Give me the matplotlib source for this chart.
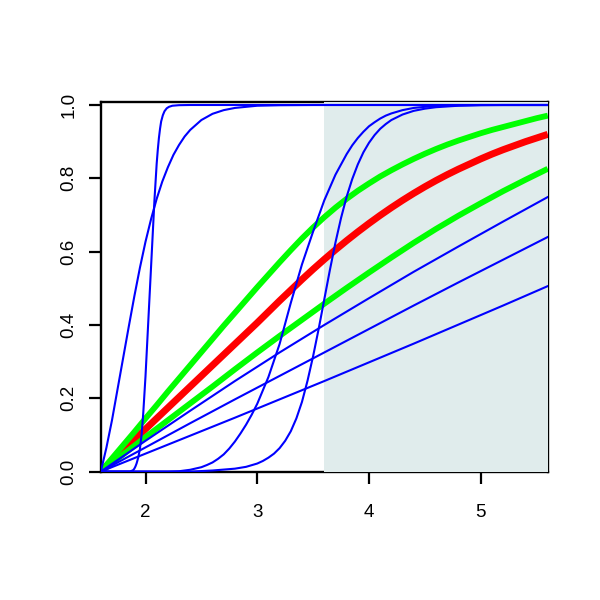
import matplotlib
matplotlib.use("Agg")
import matplotlib.pyplot as plt

plt.rcParams['font.family'] = ['Liberation Sans', 'DejaVu Sans']

# shaded band and axis setup
shade_from, shade_to = 3.6, 5.6
x_ticks = [2, 3, 4, 5]
y_ticks = [0.0, 0.2, 0.4, 0.6, 0.8, 1.0]

# red curve (thick), read every 0.1
red_x = [1.6, 1.7, 1.8, 1.9, 2.0, 2.1, 2.2, 2.3, 2.4, 2.5, 2.6, 2.7, 2.8, 2.9, 3.0,
         3.1, 3.2, 3.3, 3.4, 3.5, 3.6, 3.7, 3.8, 3.9, 4.0, 4.1, 4.2, 4.3, 4.4, 4.5,
         4.6, 4.7, 4.8, 4.9, 5.0, 5.1, 5.2, 5.3, 5.4, 5.5, 5.6]
red_y = [0.0, 0.029, 0.058, 0.087, 0.116, 0.145, 0.174, 0.203, 0.232, 0.261, 0.29,
         0.319, 0.348, 0.377, 0.406, 0.436, 0.466, 0.495, 0.524, 0.552, 0.579, 0.605,
         0.63, 0.654, 0.677, 0.699, 0.72, 0.74, 0.759, 0.777, 0.794, 0.81, 0.825,
         0.839, 0.853, 0.866, 0.878, 0.889, 0.9, 0.91, 0.92]

# upper green curve (thick)
green_hi_x = red_x
green_hi_y = [0.0, 0.036, 0.072, 0.108, 0.145, 0.181, 0.218, 0.254, 0.29, 0.326, 0.362,
              0.398, 0.433, 0.468, 0.503, 0.537, 0.571, 0.604, 0.636, 0.666, 0.694, 0.72,
              0.744, 0.766, 0.786, 0.805, 0.822, 0.838, 0.853, 0.867, 0.88, 0.892, 0.903,
              0.913, 0.923, 0.932, 0.94, 0.948, 0.956, 0.964, 0.971]

# lower green curve (thick)
green_lo_x = [1.6, 1.8, 2.0, 2.2, 2.4, 2.6, 2.8, 3.0, 3.2, 3.4, 3.6, 3.8, 4.0, 4.2, 4.4,
              4.6, 4.8, 5.0, 5.2, 5.4, 5.6]
green_lo_y = [0.0, 0.047, 0.094, 0.14, 0.186, 0.232, 0.279, 0.325, 0.37, 0.414, 0.458,
              0.501, 0.543, 0.584, 0.624, 0.662, 0.698, 0.732, 0.765, 0.796, 0.826]

# blue, near-straight ones
line_x = [1.6, 2.0, 2.4, 2.8, 3.2, 3.6, 4.0, 4.4, 4.8, 5.2, 5.6]
line_a = [0.0, 0.084, 0.166, 0.247, 0.325, 0.40, 0.473, 0.545, 0.614, 0.682, 0.749]
line_b = [0.0, 0.066, 0.132, 0.197, 0.261, 0.325, 0.389, 0.453, 0.516, 0.578, 0.64]
line_c = [0.0, 0.049, 0.098, 0.147, 0.197, 0.247, 0.298, 0.349, 0.401, 0.453, 0.506]

# blue, fast rise from the start
fast_x = [1.6, 1.65, 1.7, 1.75, 1.8, 1.85, 1.9, 1.95, 2.0, 2.05, 2.1, 2.15, 2.2, 2.25,
          2.3, 2.35, 2.4, 2.5, 2.6, 2.7, 2.8, 3.0, 3.2, 3.5, 5.6]
fast_y = [0.0, 0.065, 0.14, 0.225, 0.31, 0.395, 0.478, 0.556, 0.627, 0.689, 0.744, 0.791,
          0.83, 0.864, 0.891, 0.914, 0.932, 0.959, 0.976, 0.986, 0.992, 0.998, 0.9994,
          1.0, 1.0]

# blue, very steep step near 2
step_x = [1.6, 1.86, 1.89, 1.9, 1.91, 1.92, 1.935, 1.95, 1.965, 1.98, 2.0, 2.02, 2.04,
          2.06, 2.08, 2.1, 2.11, 2.12, 2.13, 2.14, 2.155, 2.17, 2.19, 2.21, 2.24, 2.3,
          2.4, 5.6]
step_y = [0.0, 0.0, 0.004, 0.008, 0.014, 0.022, 0.038, 0.062, 0.1, 0.16, 0.26, 0.38,
          0.5, 0.62, 0.74, 0.84, 0.878, 0.91, 0.935, 0.955, 0.972, 0.983, 0.991, 0.995,
          0.998, 0.9995, 1.0, 1.0]

# blue sigmoid around 3.3
sig1_x = [1.6, 2.2, 2.3, 2.4, 2.5, 2.55, 2.6, 2.65, 2.7, 2.75, 2.8, 2.85, 2.9, 2.95,
          3.0, 3.1, 3.2, 3.3, 3.4, 3.5, 3.6, 3.7, 3.8, 3.85, 3.9, 3.95, 4.0, 4.05,
          4.1, 4.15, 4.2, 4.3, 4.4, 4.5, 4.6, 4.8, 5.0, 5.6]
sig1_y = [0.0, 0.0, 0.001, 0.005, 0.012, 0.018, 0.025, 0.035, 0.047, 0.063, 0.082,
          0.104, 0.128, 0.155, 0.185, 0.258, 0.348, 0.46, 0.565, 0.655, 0.74, 0.81,
          0.866, 0.89, 0.91, 0.927, 0.942, 0.953, 0.963, 0.971, 0.977, 0.986, 0.992,
          0.995, 0.997, 0.999, 1.0, 1.0]

# blue sigmoid around 3.6 (steeper)
sig2_x = [1.6, 2.4, 2.6, 2.8, 2.9, 3.0, 3.05, 3.1, 3.15, 3.2, 3.25, 3.3, 3.35, 3.4,
          3.45, 3.5, 3.55, 3.6, 3.65, 3.7, 3.75, 3.8, 3.85, 3.9, 3.95, 4.0, 4.05,
          4.1, 4.15, 4.2, 4.3, 4.4, 4.5, 4.6, 4.8, 5.0, 5.2, 5.6]
sig2_y = [0.0, 0.0, 0.003, 0.008, 0.013, 0.022, 0.029, 0.038, 0.049, 0.064, 0.084,
          0.11, 0.145, 0.19, 0.248, 0.315, 0.39, 0.47, 0.55, 0.625, 0.692, 0.75,
          0.798, 0.838, 0.871, 0.897, 0.918, 0.935, 0.948, 0.959, 0.974, 0.984,
          0.99, 0.994, 0.998, 0.9995, 1.0, 1.0]

fig = plt.figure(figsize=(6, 6), dpi=100)
ax = fig.add_axes([0.168, 0.214, 0.745, 0.6165])

ax.axvspan(shade_from, shade_to, color='#E0ECEC', zorder=2.6, lw=0)

ax.plot(red_x, red_y, color='#FF0000', lw=5.0, zorder=3, solid_capstyle='butt')
ax.plot(green_hi_x, green_hi_y, color='#00FF00', lw=4.2, zorder=4, solid_capstyle='butt')
ax.plot(green_lo_x, green_lo_y, color='#00FF00', lw=4.2, zorder=4, solid_capstyle='butt')

blues = [(line_x, line_a), (line_x, line_b), (line_x, line_c),
         (fast_x, fast_y), (step_x, step_y), (sig1_x, sig1_y), (sig2_x, sig2_y)]
for bx, by in blues:
    ax.plot(bx, by, color='#0000FF', lw=1.5, zorder=5)

ax.set_xlim(1.6, 5.6)
ax.set_ylim(0, 1.009)
ax.set_xticks(x_ticks)
ax.set_yticks(y_ticks)
ax.set_yticklabels(['%.1f' % v for v in y_ticks])

for s in ax.spines.values():
    s.set_linewidth(1.7)
ax.tick_params(axis='both', length=8.6, width=1.6, labelsize=13.5)
ax.tick_params(axis='x', pad=15)
ax.tick_params(axis='y', pad=8, labelrotation=90)
for lab in ax.get_yticklabels():
    lab.set_va('center')

fig.savefig('out.png', dpi=100)
